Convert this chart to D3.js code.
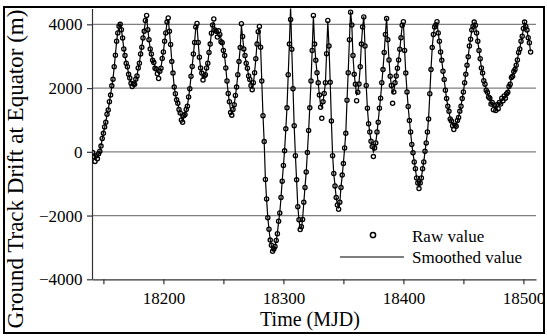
<!DOCTYPE html>
<html>
<head>
<meta charset="utf-8">
<script src="https://cdn.jsdelivr.net/npm/d3@7"></script>
<style>
  body { margin: 0; background: #fff; }
  svg { display: block; }
  text { font-family: "Times New Roman", "Liberation Serif", serif; fill: #000; }
</style>
</head>
<body>
<div id="chart"></div>
<script>
  // daily samples, first one at this MJD
  var firstDay = 18141;

  var smoothed = [
    -50, -100, -150, -200, -150, -100, 0, 200, 400, 600,            // 18141
    750, 950, 1150, 1330, 1550, 1800, 2050, 2300, 2650, 3050,
    3450, 3750, 3920, 4000, 3850, 3550, 3250, 3000, 2800, 2650,
    2450, 2300, 2180, 2110, 2100, 2150, 2250, 2400, 2600, 2800,
    3050, 3300, 3550, 3800, 4100, 4200, 3850, 3500, 3250, 3050,
    2900, 2780, 2680, 2580, 2520, 2450, 2500, 2650, 2900, 3150,
    3450, 3750, 4050, 4150, 3800, 3350, 2850, 2450, 2050, 1800,     // 18201
    1650, 1500, 1350, 1200, 1050, 1000, 1100, 1200, 1300, 1450,
    1700, 2000, 2350, 2700, 3050, 3450, 3900, 3950, 3450, 2950,
    2650, 2450, 2350, 2350, 2450, 2600, 2800, 3100, 3400, 3700,
    4000, 4050, 3850, 3750, 3700, 3750, 3700, 3550, 3400, 3200,
    3000, 2650, 2200, 1850, 1550, 1300, 1200, 1300, 1500, 1750,
    2050, 2400, 2850, 3250, 3950, 3600, 3250, 3000, 2800, 2600,     // 18261
    2400, 2250, 2100, 2000, 2150, 2500, 2900, 3400, 3750, 3900,
    3300, 2200, 1150, 300, -850, -1500, -2050, -2450, -2750, -2950,
    -3100, -3100, -2950, -2800, -2550, -2200, -1900, -1450, -900, -450,
    50, 700, 1400, 2400, 3400, 4550, 3200, 2000, 800, -100,
    -900, -1700, -2150, -2400, -2400, -2100, -1600, -1100, -650, 0,
    650, 1400, 2200, 3200, 4250, 3400, 2850, 2500, 2150, 1800,      // 18321
    1450, 1400, 1550, 1850, 2150, 3100, 4100, 3300, 2200, 950,
    -100, -700, -1050, -1450, -1650, -1750, -1600, -1100, -750, -350,
    100, 600, 1600, 2500, 3500, 4400, 4000, 3000, 2450, 2100,
    1800, 1850, 2150, 2650, 3400, 3900, 4250, 3300, 2100, 1350,
    900, 600, 350, 150, 0, 100, 300, 600, 950, 1350,
    1700, 2150, 2600, 3100, 3700, 4200, 3500, 2900, 2350, 2100,     // 18381
    1850, 1900, 2150, 2400, 2600, 2900, 3200, 3600, 3950, 4050,
    3200, 2450, 1900, 1400, 1000, 600, 250, -50, -300, -550,
    -800, -1000, -1100, -1000, -800, -550, -300, 0, 300, 600,
    1050, 1800, 2600, 3250, 3700, 3900, 4000, 4050, 3750, 3450,
    3150, 2850, 2550, 2250, 1950, 1650, 1450, 1250, 1050, 950,
    850, 800, 800, 850, 950, 1100, 1250, 1450, 1650, 1900,          // 18441
    2150, 2450, 2700, 3000, 3300, 3550, 3800, 3950, 4050, 3950,
    3750, 3450, 3200, 2900, 2650, 2450, 2250, 2100, 1950, 1850,
    1750, 1650, 1550, 1500, 1450, 1400, 1400, 1400, 1450, 1500,
    1550, 1600, 1650, 1700, 1750, 1800, 1900, 2000, 2150, 2300,
    2400, 2500, 2600, 2700, 2900, 3100, 3250, 3450, 3650, 3850,
    4050, 3950, 3800, 3600, 3400, 3150                              // 18501
  ];

  var raw = [
    -20, -150, -300, -120, -220, -60, 20, 180, 420, 580,
    780, 930, 1180, 1310, 1570, 1780, 2070, 2280, 2670, 3030,
    3470, 3730, 3940, 4000, 3830, 3570, 3230, 3020, 2780, 2670,
    2430, 2320, 2150, 2050, 2130, 2120, 2280, 2380, 2630, 2780,
    3070, 3280, 3570, 3780, 4120, 4280, 3830, 3520, 3230, 3070,
    2870, 2800, 2620, 2600, 2450, 2300, 2530, 2620, 2930, 3130,
    3470, 3730, 4070, 4200, 3780, 3370, 2830, 2470, 2030, 1820,
    1630, 1520, 1330, 1220, 1000, 930, 1130, 1170, 1330, 1430,
    1720, 1980, 2370, 2680, 3070, 3430, 3920, 4030, 3430, 2970,
    2630, 2470, 2250, 2380, 2420, 2630, 2780, 3120, 3380, 3720,
    3980, 4170, 3820, 3780, 3600, 3800, 3680, 3450, 3420, 3180,
    3020, 2630, 2220, 1830, 1570, 1230, 1150, 1330, 1480, 1770,
    2030, 2420, 2830, 3270, 4020, 3620, 3230, 3020, 2780, 2620,
    2380, 2270, 2080, 1950, 2170, 2480, 2920, 3380, 3770, 3930,
    3280, 2220, 1130, 320, -870, -1480, -2070, -2430, -2770, -2930,
    -3120, -3050, -2970, -2780, -2570, -2180, -1920, -1430, -920, -430,
    30, 720, 1380, 2420, 3380, 4150, 3220, 1980, 820, -120,
    -880, -1720, -2130, -2440, -2350, -2120, -1580, -1120, -630, -20,
    670, 1380, 2220, 3180, 4280, 3380, 2870, 2480, 2170, 1780,
    1400, 1050, 1570, 1830, 2170, 3080, 4120, 3320, 2180, 970,
    -120, -680, -1070, -1430, -1670, -1800, -1580, -1120, -730, -370,
    120, 580, 1620, 2480, 3520, 4380, 3980, 3020, 2430, 2120,
    1600, 1870, 2130, 2670, 3380, 3920, 4230, 3320, 2080, 1370,
    880, 620, 330, 170, -150, 120, 280, 620, 930, 1370,
    1680, 2170, 2580, 3120, 3680, 4180, 3520, 2880, 2370, 2080,
    1520, 1880, 2170, 2380, 2620, 2880, 3220, 3580, 3970, 4080,
    3180, 2470, 1880, 1420, 980, 620, 230, -30, -320, -530,
    -820, -980, -1150, -980, -820, -530, -320, 20, 280, 620,
    1030, 1820, 2580, 3270, 3680, 3920, 3980, 4080, 3730, 3470,
    3130, 2870, 2530, 2270, 1930, 1670, 1430, 1270, 1030, 970,
    820, 700, 830, 800, 980, 1080, 1270, 1430, 1670, 1880,
    2170, 2430, 2720, 2980, 3320, 3530, 3820, 3930, 4070, 3970,
    3730, 3470, 3180, 2920, 2630, 2470, 2230, 2120, 1930, 1870,
    1720, 1680, 1500, 1550, 1320, 1450, 1300, 1480, 1350, 1550,
    1500, 1680, 1600, 1750, 1680, 1820, 1870, 2050, 2120, 2330,
    2370, 2520, 2580, 2720, 2880, 3120, 3230, 3470, 3630, 3870,
    4070, 3930, 3820, 3580, 3420, 3130
  ];

  var xTicks = [18150, 18200, 18250, 18300, 18350, 18400, 18450, 18500];
  var xLabels = [18200, 18300, 18400, 18500];
  var yTicks = [-4000, -2000, 0, 2000, 4000];
  var gridValues = [-2000, 0, 2000, 4000];
  var legendNames = ["Raw value", "Smoothed value"];

(function() {
  'use strict';

  var serif = '"Times New Roman", "Liberation Serif", serif';
  var width = 547, height = 336;
  var plotLeft = 92, plotRight = 536, plotTop = 8.4, plotBottom = 279.3;

  var svg = d3.select("#chart").append("svg")
    .attr("width", width)
    .attr("height", height);

  var x = d3.scaleLinear().domain([18140.5, 18510.5]).range([plotLeft, plotRight]);
  var y = d3.scaleLinear().domain([-4000, 4500]).range([plotBottom, plotTop]);

  function day(i) { return firstDay + i; }

  // outer frame
  svg.append("rect")
    .attr("x", 4).attr("y", 7)
    .attr("width", 540).attr("height", 326)
    .attr("fill", "none")
    .attr("stroke", "#000")
    .attr("stroke-width", 2);

  // horizontal grid
  svg.append("g").selectAll("line").data(gridValues).enter()
    .append("line")
    .attr("x1", plotLeft).attr("x2", plotRight)
    .attr("y1", function(d) { return y(d); })
    .attr("y2", function(d) { return y(d); })
    .attr("stroke", "#808080")
    .attr("stroke-width", 1.2);

  // axes
  var xAxis = d3.axisBottom(x)
    .tickValues(xTicks)
    .tickSize(5)
    .tickSizeOuter(0)
    .tickPadding(8)
    .tickFormat(function(d) { return xLabels.indexOf(d) >= 0 ? d : ""; });

  var gx = svg.append("g")
    .attr("transform", "translate(0," + plotBottom + ")")
    .call(xAxis);

  var yAxis = d3.axisLeft(y)
    .tickValues(yTicks)
    .tickSize(5)
    .tickSizeOuter(0)
    .tickPadding(4.5)
    .tickFormat(d3.format("d"));

  var gy = svg.append("g")
    .attr("transform", "translate(" + plotLeft + ",0)")
    .call(yAxis);

  [gx, gy].forEach(function(g) {
    g.attr("font-family", serif).attr("font-size", 17);
    g.selectAll("path, line").attr("stroke", "#333").attr("stroke-width", 1.2);
    g.selectAll("text").style("font-family", serif).style("font-size", "17px");
  });

  // data, clipped to the plot area
  svg.append("clipPath").attr("id", "plot-clip")
    .append("rect")
    .attr("x", plotLeft).attr("y", plotTop)
    .attr("width", plotRight - plotLeft).attr("height", plotBottom - plotTop);

  var plot = svg.append("g").attr("clip-path", "url(#plot-clip)");

  var line = d3.line()
    .x(function(d, i) { return x(day(i)); })
    .y(function(d) { return y(d); });

  plot.append("path")
    .datum(smoothed)
    .attr("d", line)
    .attr("fill", "none")
    .attr("stroke", "#000")
    .attr("stroke-width", 1.2);

  plot.selectAll("circle").data(raw).enter()
    .append("circle")
    .attr("cx", function(d, i) { return x(day(i)); })
    .attr("cy", function(d) { return y(d); })
    .attr("r", 2.1)
    .attr("fill", "none")
    .attr("stroke", "#000")
    .attr("stroke-width", 1.3);

  // axis titles
  svg.append("text")
    .attr("x", (plotLeft + plotRight) / 2 - 4)
    .attr("y", 326)
    .attr("text-anchor", "middle")
    .style("font-size", "20px")
    .text("Time (MJD)");

  svg.append("text")
    .attr("transform", "translate(23,169) rotate(-90)")
    .attr("text-anchor", "middle")
    .style("font-size", "23px")
    .text("Ground Track Drift at Equator (m)");

  // legend
  var legend = svg.append("g");
  legend.append("circle")
    .attr("cx", 373).attr("cy", 235).attr("r", 2.6)
    .attr("fill", "none").attr("stroke", "#000").attr("stroke-width", 1.5);
  legend.append("line")
    .attr("x1", 340).attr("x2", 404)
    .attr("y1", 257).attr("y2", 257)
    .attr("stroke", "#555").attr("stroke-width", 1.3);
  legend.selectAll("text").data(legendNames).enter()
    .append("text")
    .attr("x", 412)
    .attr("y", function(d, i) { return 242 + i * 21; })
    .style("font-size", "17px")
    .text(function(d) { return d; });
}());
</script>
</body>
</html>
